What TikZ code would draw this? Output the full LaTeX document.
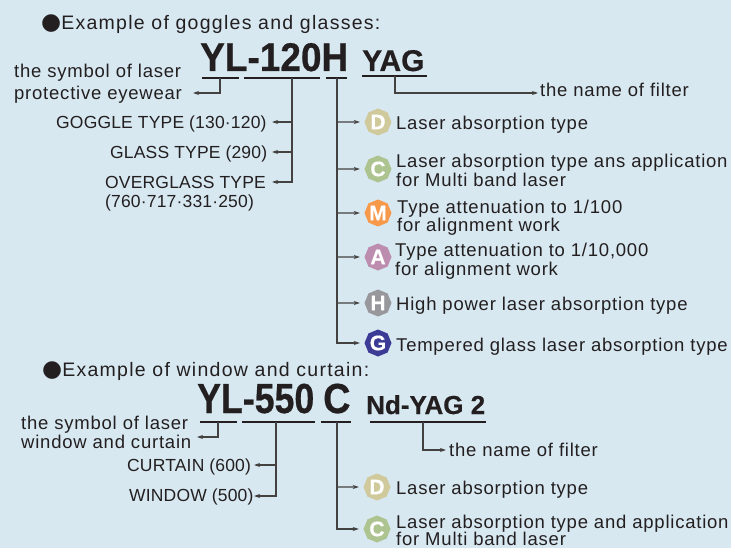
\documentclass[tikz,border=0pt]{standalone}
\usepackage{fontspec}
\setmainfont{Liberation Sans}
\newfontfamily\trackedfont[LetterSpace=4.2]{Liberation Sans}
\newfontfamily\headfont[LetterSpace=6.5]{Liberation Sans}
\newfontfamily\capsfont[LetterSpace=1]{Liberation Sans}
\newfontfamily\boldfont[FakeBold=0.6]{Liberation Sans Bold}
\newfontfamily\symfont{DejaVu Sans}
\usetikzlibrary{shapes.geometric,arrows.meta}
\definecolor{bgc}{HTML}{D7E8F1}
\definecolor{ink}{HTML}{231F20}
\definecolor{cD}{HTML}{CFC99B}
\definecolor{cC}{HTML}{AEC490}
\definecolor{cM}{HTML}{F7994B}
\definecolor{cA}{HTML}{BC8DAE}
\definecolor{cH}{HTML}{98989C}
\definecolor{cG}{HTML}{3C3C96}
\newcommand{\narrow}[2]{\scalebox{#1}[1]{#2}}
\tikzset{
  txt/.style={anchor=base west,inner sep=0pt,text=ink,font=\trackedfont\fontsize{18.5}{20}\selectfont},
  caps/.style={anchor=base west,inner sep=0pt,text=ink,font=\capsfont\fontsize{17.5}{20}\selectfont},
  head/.style={anchor=base west,inner sep=0pt,text=ink,font=\headfont\fontsize{19.5}{22}\selectfont},
  big/.style={anchor=base west,inner sep=0pt,text=ink,font=\boldfont\fontsize{#1}{#1}\selectfont},
  badge/.style={regular polygon,regular polygon sides=8,shape border rotate=22.5,minimum size=27pt,inner sep=0pt,fill=#1,text=white,font=\boldfont\fontsize{21}{21}\selectfont},
  rule/.style={line width=1.3pt,draw=ink},
  conn/.style={line width=1.1pt,draw=ink!85},
  arr/.style={conn,-{Stealth[length=6pt,width=4pt]}},
}
\begin{document}
\begin{tikzpicture}[x=1pt,y=-1pt]
\useasboundingbox (0,0) rectangle (731,548);
\fill[bgc] (0,0) rectangle (731,548);

% ---------- goggles and glasses
\node[head] (h1) at (41,30) {{\symfont\fontsize{23}{23}\selectfont●}Example of goggles and glasses:};
\node[big=40] (yl1) at (200,71) {\narrow{.925}{YL-120H}};
\node[big=30] (yag) at (362,71) {YAG};
\coordinate (u1a) at (202,78); \coordinate (u1b) at (239,78);
\coordinate (u2a) at (244,78); \coordinate (u2b) at (320,78);
\coordinate (u3a) at (326,78); \coordinate (u3b) at (347,78);
\coordinate (u4a) at (362,76); \coordinate (u4b) at (427,76);
\draw[rule] (u1a)--(u1b); \draw[rule] (u2a)--(u2b); \draw[rule] (u3a)--(u3b); \draw[rule] (u4a)--(u4b);

\node[txt] (sym1) at (14,78) {the symbol of laser};
\node[txt] (sym2) at (14,100) {protective eyewear};
\node[caps] (goggle) at (56,129) {GOGGLE TYPE (130·120)};
\node[caps] (glass) at (110,159) {GLASS TYPE (290)};
\node[caps] (over) at (105,189) {OVERGLASS TYPE};
\node[caps] (overn) at (105,208) {(760·717·331·250)};
\node[txt] (filt1) at (540,97) {the name of filter};

\coordinate (a1) at (193,93); \coordinate (v1) at (220,78);
\draw[arr] (v1) |- (a1);
\coordinate (v2) at (292,78);
\coordinate (a2) at (272,122); \coordinate (a3) at (272,152); \coordinate (a4) at (272,182);
\draw[conn] (v2) -- (v2 |- a3);
\draw[arr] (v2 |- a2) -- (a2);
\draw[arr] (v2 |- a3) -- (a3);
\draw[arr] (v2) |- (a4);
\coordinate (v4) at (395,76); \coordinate (a5) at (538,93);
\draw[arr] (v4) |- (a5);

\node[badge=cD] (bD) at (378,122) {D};
\node[badge=cC] (bC) at (378,169) {C};
\node[badge=cM] (bM) at (378,213) {M};
\node[badge=cA] (bA) at (378,257) {A};
\node[badge=cH] (bH) at (378,303) {H};
\node[badge=cG] (bG) at (378,343) {G};
\tikzset{toBadge/.style={arr,shorten >=4.5pt}}
\coordinate (v3) at (337,78);
\draw[conn] (v3) -- (v3 |- bH);
\foreach \b in {bD,bC,bM,bA,bH} {\draw[toBadge] (v3 |- \b) -- (\b.180);}
\draw[toBadge] (v3) |- (bG.180);

\node[txt] (tD) at (396,130) {Laser absorption type};
\node[txt] (tC) at (396,168) {Laser absorption type ans application};
\node[txt] (tC2) at (396,187) {for Multi band laser};
\node[txt] (tM) at (397,214) {Type attenuation to 1/100};
\node[txt] (tM2) at (397,232) {for alignment work};
\node[txt] (tA) at (395,257) {Type attenuation to 1/10,000};
\node[txt] (tA2) at (395,275) {for alignment work};
\node[txt] (tH) at (396,310) {High power laser absorption type};
\node[txt] (tG) at (396,351) {Tempered glass laser absorption type};

% ---------- window and curtain
\node[head] (h2) at (42,376) {{\symfont\fontsize{23}{23}\selectfont●}Example of window and curtain:};
\node[big=42] (yl2) at (197,413) {\narrow{.85}{YL-550}};
\node[big=42] (c2) at (323,413) {\narrow{.9}{C}};
\node[big=26] (nd) at (366,414) {Nd-YAG 2};
\coordinate (w1a) at (200,422); \coordinate (w1b) at (237,422);
\coordinate (w2a) at (242,422); \coordinate (w2b) at (315,422);
\coordinate (w3a) at (321,422); \coordinate (w3b) at (351,422);
\coordinate (w4a) at (370,422); \coordinate (w4b) at (486,422);
\draw[rule] (w1a)--(w1b); \draw[rule] (w2a)--(w2b); \draw[rule] (w3a)--(w3b); \draw[rule] (w4a)--(w4b);

\node[txt] (sy1) at (21,429) {the symbol of laser};
\node[txt] (sy2) at (21,448) {window and curtain};
\node[caps] (curt) at (127,471) {CURTAIN (600)};
\node[caps] (wind) at (129,501) {WINDOW (500)};
\node[txt] (filt2) at (449,456) {the name of filter};

\coordinate (b1) at (197,437); \coordinate (x1) at (218,422);
\draw[arr] (x1) |- (b1);
\coordinate (x2) at (276,422);
\coordinate (b2) at (254,465); \coordinate (b3) at (254,496);
\draw[conn] (x2) -- (x2 |- b2);
\draw[arr] (x2 |- b2) -- (b2);
\draw[arr] (x2) |- (b3);
\coordinate (x4) at (423,422); \coordinate (b4) at (446,450);
\draw[arr] (x4) |- (b4);

\node[badge=cD] (dD) at (377,487) {D};
\node[badge=cC] (dC) at (377,529) {C};
\coordinate (x3) at (337,422);
\draw[conn] (x3) -- (x3 |- dD);
\draw[toBadge] (x3 |- dD) -- (dD.180);
\draw[toBadge] (x3) |- (dC.180);

\node[txt] (uD) at (396,494) {Laser absorption type};
\node[txt] (uC) at (396,528) {Laser absorption type and application};
\node[txt] (uC2) at (396,545.5) {for Multi band laser};
\end{tikzpicture}
\end{document}
